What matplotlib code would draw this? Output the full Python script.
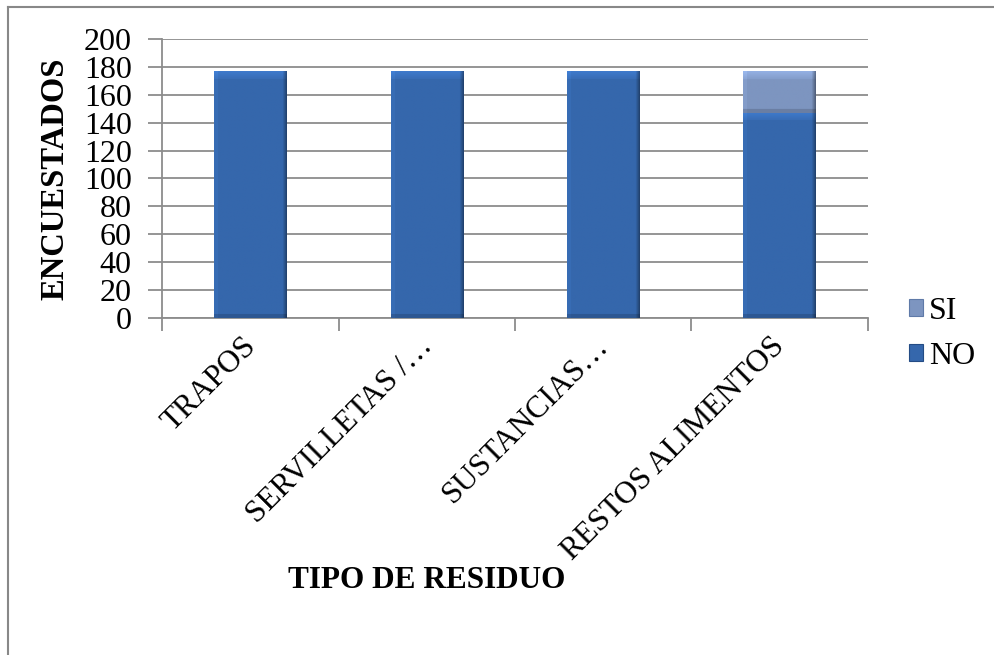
import numpy as np
import matplotlib.pyplot as plt
from matplotlib.lines import Line2D
from matplotlib.patches import Patch
from matplotlib.colors import to_rgb
from matplotlib.transforms import ScaledTranslation

plt.rcParams['font.family'] = ['Liberation Serif', 'DejaVu Serif']

# datos de la encuesta
categorias = ['TRAPOS', 'SERVILLETAS /…', 'SUSTANCIAS…', 'RESTOS ALIMENTOS']
no = [177, 177, 177, 147]
si = [0, 0, 0, 30]
yticks = [0, 20, 40, 60, 80, 100, 120, 140, 160, 180, 200]

color_no = '#3567AC'
color_si = '#7D95C0'
gris = '#8C8C8C'


def biselar(ax, barras, color, px_x, px_y, bisel=8):
    # relleno con sombreado tipo bisel recortado a cada barra
    base = np.array(to_rgb(color))
    for b in barras:
        h = b.get_height()
        if h <= 0:
            continue
        w = b.get_width()
        nx = max(int(w * px_x), 2)
        ny = max(int(h * px_y), 2)
        fx = np.ones(nx)
        k = max(int(bisel * 0.6), 1)
        fx[:k] = 1.05
        fx[-k:] = np.linspace(0.92, 0.65, k)
        fy = np.ones(ny)
        fy[:bisel] = np.linspace(1.18, 1.06, bisel)
        fy[-4:] = 0.85
        img = base[None, None, :] * fy[:, None, None] * fx[None, :, None]
        img = np.clip(img, 0, 1)
        x0, y0 = b.get_x(), b.get_y()
        im = ax.imshow(img, extent=[x0, x0 + w, y0, y0 + h], aspect='auto',
                       origin='upper', zorder=3.5, interpolation='bilinear')
        im.set_clip_path(b)


fig = plt.figure(figsize=(9.95, 6.55), dpi=100)
ax = fig.add_axes([0.163, 0.5145, 0.709, 0.426])

x = np.arange(len(categorias))
ancho = 0.41
b_no = ax.bar(x, no, width=ancho, color=color_no, zorder=3)
b_si = ax.bar(x, si, bottom=no, width=ancho, color=color_si, zorder=3)

# pixeles por unidad de datos
px_x = 0.709 * 995 / len(categorias)
px_y = 0.426 * 655 / 200
biselar(ax, b_no, color_no, px_x, px_y)
biselar(ax, b_si, color_si, px_x, px_y)
ax.set_xlim(-0.5, len(categorias) - 0.5)
ax.set_ylim(0, 200)

ax.set_yticks(yticks)
ax.tick_params(axis='y', labelsize=23, length=10, color=gris, width=1.3, pad=12)
ax.yaxis.grid(True, color=gris, lw=1.3)
ax.set_axisbelow(True)

# etiquetas de categoria giradas, un poco a la izquierda de cada centro
ax.set_xticks([])
desplazar = ScaledTranslation(-9 / 100, -14 / 100, fig.dpi_scale_trans)
for i, cat in enumerate(categorias):
    ax.text(i, 0, cat, transform=ax.get_xaxis_transform() + desplazar,
            rotation=45, ha='right', va='top', rotation_mode='anchor',
            fontsize=22.5)
ax.set_xticks(np.arange(-0.5, len(categorias)), minor=True)
ax.tick_params(axis='x', which='minor', length=9, color=gris, width=1.3)

for lado in ['top', 'right']:
    ax.spines[lado].set_visible(False)
for lado in ['left', 'bottom']:
    ax.spines[lado].set_color(gris)
    ax.spines[lado].set_linewidth(1.3)

ax.set_ylabel('ENCUESTADOS', fontsize=23.5, fontweight='bold')
ax.yaxis.set_label_coords(-0.13, 0.5)
fig.text(427 / 995, 1 - 581 / 655, 'TIPO DE RESIDUO', fontsize=22.5,
         fontweight='bold', ha='center', va='center')

handles = [Patch(facecolor=color_si, edgecolor='#5F7AA8', lw=0.8),
           Patch(facecolor=color_no, edgecolor='#244C85', lw=0.8)]
fig.legend(handles, ['SI', 'NO'], loc='center left',
           bbox_to_anchor=(0.914, 1 - 334 / 655), frameon=False, fontsize=23,
           handlelength=0.42, handleheight=0.42, handletextpad=0.2,
           labelspacing=0.5, borderpad=0, borderaxespad=0)

# marco del grafico
fig.add_artist(Line2D([8 / 995, 1], [1 - 7 / 655, 1 - 7 / 655],
                      transform=fig.transFigure, color='#888888', lw=1.5))
fig.add_artist(Line2D([8 / 995, 8 / 995], [0, 1 - 7 / 655],
                      transform=fig.transFigure, color='#888888', lw=1.5))

fig.savefig('out.png', dpi=100)
